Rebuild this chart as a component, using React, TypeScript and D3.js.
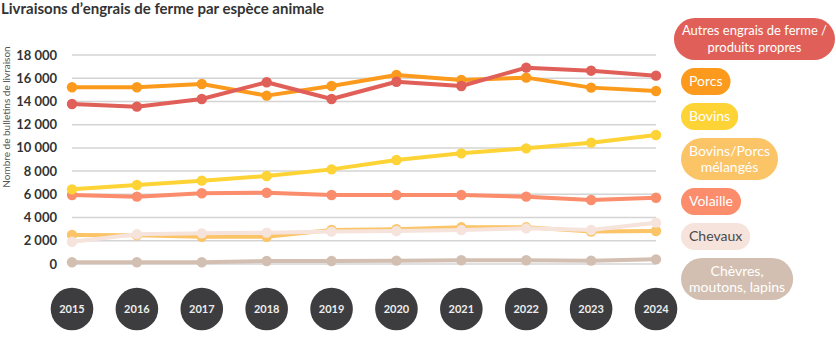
import React from "react";
import * as d3 from "d3";

const years = [2015, 2016, 2017, 2018, 2019, 2020, 2021, 2022, 2023, 2024];

const autres = [13780, 13550, 14210, 15650, 14210, 15700, 15330, 16910, 16650, 16220];
const porcs = [15220, 15220, 15500, 14500, 15330, 16280, 15850, 16050, 15190, 14900];
const bovins = [6430, 6800, 7180, 7580, 8150, 8960, 9530, 9960, 10450, 11110];
const melanges = [2500, 2470, 2350, 2350, 2930, 2990, 3160, 3160, 2790, 2840];
const volaille = [5940, 5800, 6090, 6140, 5940, 5940, 5940, 5800, 5510, 5710];
const chevaux = [1920, 2560, 2640, 2700, 2790, 2840, 2930, 3070, 2930, 3560];
const chevres = [150, 150, 150, 260, 260, 290, 320, 320, 290, 400];

const yTicks = [0, 2000, 4000, 6000, 8000, 10000, 12000, 14000, 16000, 18000];

const seriesNames = [
  "Autres engrais de ferme / produits propres",
  "Porcs",
  "Bovins",
  "Bovins/Porcs mélangés",
  "Volaille",
  "Chevaux",
  "Chèvres, moutons, lapins",
];
const legendLines = [
  ["Autres engrais de ferme /", "produits propres"],
  ["Porcs"],
  ["Bovins"],
  ["Bovins/Porcs", "mélangés"],
  ["Volaille"],
  ["Chevaux"],
  ["Chèvres,", "moutons, lapins"],
];
const seriesValues = [autres, porcs, bovins, melanges, volaille, chevaux, chevres];
const colors = ["#e05f58", "#fb9a1c", "#fdd335", "#fbc466", "#fb8c6c", "#f5e3dc", "#d3bfb1"];
const legendTextColors = ["#fff", "#fff", "#fff", "#fff", "#fff", "#4a4a4a", "#fff"];
// drawing order (bottom to top)
const drawOrder = [6, 3, 5, 4, 2, 1, 0];

const FONT = "Lato, 'Noto Sans', sans-serif";

function measure(text: string, font: string): number {
  const c = document.createElement("canvas");
  const ctx = c.getContext("2d");
  if (!ctx) return text.length * 7;
  ctx.font = font;
  return ctx.measureText(text).width;
}

export default function App() {
  const W = 836;
  const H = 364;
  const x = d3.scalePoint<number>().domain(years).range([72, 656]);
  const y = d3.scaleLinear().domain([0, 18000]).range([264, 55]);
  const line = d3
    .line<number>()
    .x((_, i) => x(years[i]) as number)
    .y((d) => y(d));
  const fmt = (v: number) => d3.format(",")(v).replace(/,/g, " ");

  // legend layout
  const maxText = 144;
  let ly = 18;
  const pills = legendLines.map((lines, i) => {
    let fs = 14;
    let widths = lines.map((l) => measure(l, `${fs}px ${FONT}`));
    if (Math.max(...widths) > maxText) {
      fs = 13;
      widths = lines.map((l) => measure(l, `${fs}px ${FONT}`));
    }
    const tw = Math.max(...widths);
    const w = tw + 16;
    const h = lines.length === 1 ? 27 : 42;
    let lx = 681;
    if (lx + w > 835) lx = 835 - w;
    const p = { x: lx, y: ly, w, h, lines, fs, i };
    ly += h + 8;
    return p;
  });

  return (
    <svg width={W} height={H} style={{ position: "absolute", left: 0, top: 0 }} fontFamily={FONT}>
      <rect width={W} height={H} fill="#fff" />
      <text x={1} y={14} fontSize={15} fontWeight="bold" fill="#333">
        Livraisons d’engrais de ferme par espèce animale
      </text>
      <text
        transform={`translate(10,117) rotate(-90)`}
        textAnchor="middle"
        fontSize={10}
        fill="#555"
      >
        Nombre de bulletins de livraison
      </text>
      {yTicks.map((t) => (
        <g key={t}>
          <line x1={72} x2={656} y1={y(t)} y2={y(t)} stroke="#d4d4d4" strokeWidth={1.5} />
          <text x={57} y={y(t)} dy="0.35em" textAnchor="end" fontSize={13} fontWeight="bold" fill="#333">
            {fmt(t)}
          </text>
        </g>
      ))}
      {drawOrder.map((si) => (
        <g key={seriesNames[si]}>
          <path d={line(seriesValues[si]) || ""} fill="none" stroke={colors[si]} strokeWidth={4} strokeLinejoin="round" />
          {seriesValues[si].map((v, i) => (
            <circle key={i} cx={x(years[i]) as number} cy={y(v)} r={5.2} fill={colors[si]} />
          ))}
        </g>
      ))}
      {years.map((yr) => (
        <g key={yr} transform={`translate(${x(yr)},309)`}>
          <circle r={21.3} fill="#3d3d3f" />
          <text textAnchor="middle" dy="0.35em" fontSize={11} fontWeight="bold" fill="#eee">
            {yr}
          </text>
        </g>
      ))}
      {pills.map((p) => (
        <g key={p.i}>
          <rect x={p.x} y={p.y} width={p.w} height={p.h} rx={p.lines.length === 1 ? 13.5 : 21} fill={colors[p.i]} />
          {p.lines.map((l, k) => (
            <text
              key={k}
              x={p.x + p.w / 2}
              y={p.y + p.h / 2 + (k - (p.lines.length - 1) / 2) * 16.7}
              dy="0.35em"
              textAnchor="middle"
              fontSize={p.fs}
              fill={legendTextColors[p.i]}
            >
              {l}
            </text>
          ))}
        </g>
      ))}
    </svg>
  );
}
